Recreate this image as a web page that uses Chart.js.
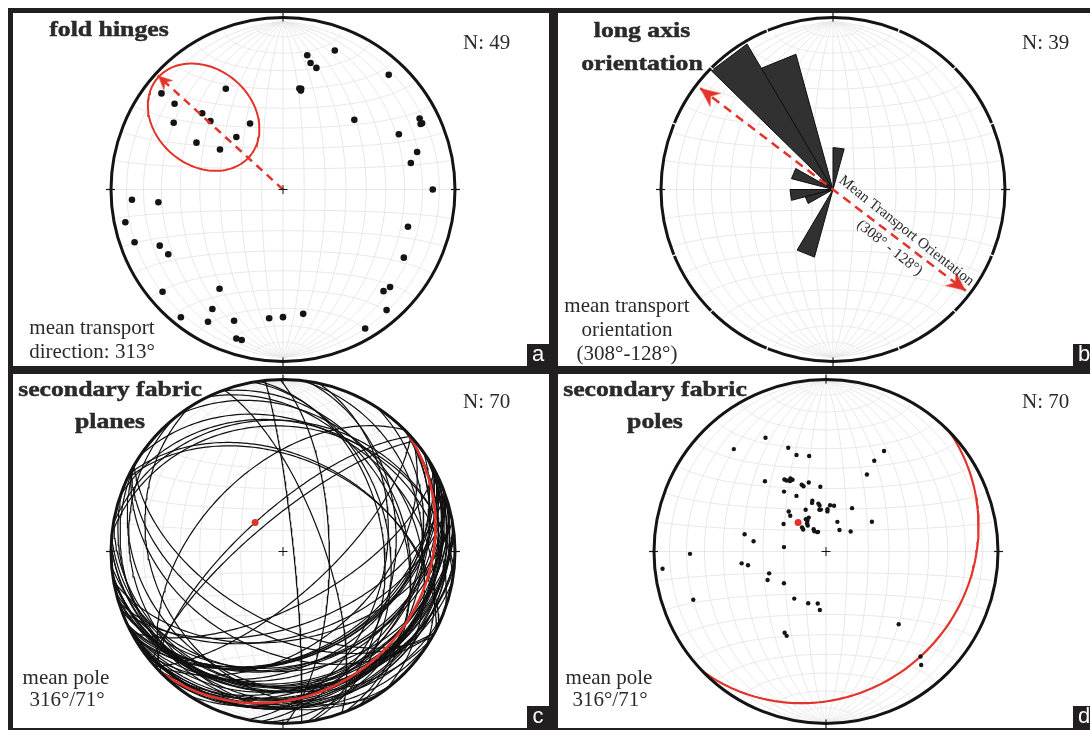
<!DOCTYPE html>
<html>
<head>
<meta charset="utf-8">
<title>Stereonets</title>
<script src="https://cdn.jsdelivr.net/npm/chart.js@4.4.1/dist/chart.umd.min.js"></script>
<style>
  html, body { margin: 0; padding: 0; background: #fff; }
  body { width: 1090px; height: 730px; overflow: hidden; position: relative; }
  .panel { position: absolute; box-sizing: border-box; border: 5px solid #231f20; background: #fff; overflow: hidden; }
  .panel canvas { position: absolute; left: 0; top: 0; }
</style>
</head>
<body>
<div class="panel" style="left:8px;top:8px;width:546px;height:363px"><canvas id="netA" width="536" height="353"></canvas></div>
<div class="panel" style="left:553px;top:8px;width:547px;height:363px"><canvas id="netB" width="537" height="353"></canvas></div>
<div class="panel" style="left:8px;top:369px;width:546px;height:364px"><canvas id="netC" width="536" height="354"></canvas></div>
<div class="panel" style="left:553px;top:369px;width:547px;height:364px"><canvas id="netD" width="537" height="354"></canvas></div>
<script>
const D = Math.PI / 180;
const RED = '#e3342b';
const INK = '#141414';
const NET_R = 172;

// ---- a: fold hinge lineations [trend, plunge] ----
const foldHinges = [
  [309,10],[331,32],[309,20],[314,35],[314,41],[302,26],[334,54],[319,56],[299,42],[303,54],
  [20,13],[10,20],[12,24],[15,26],[42,9],[9,39],[10,40],[10,39],[45,41],[62,11],[64,11],[64,12],[64,26],[74,20],[78,25],
  [266,13],[264,28],[258,7],[250,9],[245,22],[240,24],[212,31],[229,8],[210,19],[218,4],[209,11],
  [200,18],[197,8],[195,8],[186,24],[180,25],
  [90,14],[107,25],[120,20],[136,17],[133,16],[140,7],[150,5],[171,26]
];
const meanTransportDir = 313;
// cluster outline around the NW hinges: centre [trend, plunge], semi-axes in net units
const hingeCluster = { trend: 313, plunge: 37, major: 0.355, minor: 0.285 };

// ---- b: long-axis orientations, 15 degree bins ----
const roseBinStart = [0,15,30,45,60,75,90,105,120,135,150,165,180,195,210,225,240,255,270,285,300,315,330,345];
const longAxisCounts = [3,0,0,0,0,0,0,0,0,0,0,0,0,5,0,0,2,3,0,3,1,12,10,0];
const meanTransportAxis = [308, 128];

// ---- c/d: poles to secondary fabric planes [trend, plunge] ----
const fabricPoles = [
  [332,26],[318,21],[340,36],[343,41],[350,43],[319,45],[330,50],[331,51],[334,51],[335,52],[333,52],
  [340,56],[341,57],[346,56],[355,59],[325,55],[332,60],[344,66],[345,65],[351,67],[334,68],[351,70],
  [352,68],[317,64],[315,66],[328,72],[329,73],[333,72],[303,66],[325,75],[326,74],[314,75],[315,74],
  [330,79],[331,78],[338,80],[336,80],[282,50],[278,55],[276,70],
  [30,33],[28,40],[28,48],[31,66],[5,68],[10,68],[2,71],[2,70],[353,70],[21,75],[57,64],[32,78],[51,75],
  [269,22],[264,5],[262,49],[260,52],[249,61],[244,59],[250,19],[233,65],[214,63],[199,64],
  [189,65],[186,62],[207,46],[205,45],[135,40],[138,19],[140,15]
];
const meanPole = [316, 71];

// ---- lower-hemisphere equal-area (Schmidt) projection ----
function lineXY(trend, plunge) {
  const r = Math.SQRT2 * Math.sin((90 - plunge) * D / 2);
  return { x: r * Math.sin(trend * D), y: r * Math.cos(trend * D) };
}
function greatCircle(poleTrend, polePlunge, steps) {
  steps = steps || 120;
  const dipDir = poleTrend + 180, dip = 90 - polePlunge;
  const st = (dipDir - 90) * D;
  const s = [Math.sin(st), Math.cos(st), 0];
  const c = Math.cos(dip * D);
  const d = [c * Math.sin(dipDir * D), c * Math.cos(dipDir * D), Math.sin(dip * D)];
  const out = [];
  for (let i = 0; i <= steps; i++) {
    const t = Math.PI * i / steps;
    const e = s[0] * Math.cos(t) + d[0] * Math.sin(t);
    const n = s[1] * Math.cos(t) + d[1] * Math.sin(t);
    const z = Math.max(0, d[2] * Math.sin(t));
    const k = 1 / Math.sqrt(1 + z);
    out.push({ x: e * k, y: n * k });
  }
  return out;
}
function clusterOutline(c) {
  const ctr = lineXY(c.trend, c.plunge);
  const ax = [Math.sin(c.trend * D), Math.cos(c.trend * D)];
  const pr = [Math.cos(c.trend * D), -Math.sin(c.trend * D)];
  const pts = [];
  for (let i = 0; i <= 120; i++) {
    const t = 2 * Math.PI * i / 120;
    pts.push({
      x: ctr.x + c.major * Math.cos(t) * ax[0] + c.minor * Math.sin(t) * pr[0],
      y: ctr.y + c.major * Math.cos(t) * ax[1] + c.minor * Math.sin(t) * pr[1]
    });
  }
  return pts;
}
function netPoint(lam, phi) {
  const l = lam * D, p = phi * D;
  const k = Math.sqrt(1 / (1 + Math.cos(p) * Math.cos(l)));
  return [k * Math.cos(p) * Math.sin(l), k * Math.sin(p)];
}

// arrowhead sprite, tip at the sprite centre, pointing up
function arrowHead(len, halfW) {
  const c = document.createElement('canvas');
  c.width = Math.ceil(halfW * 2) + 4;
  c.height = Math.ceil(len * 2) + 4;
  const g = c.getContext('2d');
  const mx = c.width / 2, my = c.height / 2;
  g.fillStyle = RED;
  g.beginPath();
  g.moveTo(mx, my);
  g.lineTo(mx + halfW, my + len);
  g.lineTo(mx, my + len * 0.68);
  g.lineTo(mx - halfW, my + len);
  g.closePath();
  g.fill();
  return c;
}

// ---- plugins ----
const schmidtGrid = {
  id: 'schmidtGrid',
  beforeDatasetsDraw(chart) {
    const { ctx } = chart;
    const sx = chart.scales.x, sy = chart.scales.y;
    ctx.save();
    ctx.strokeStyle = '#e7e7e7';
    ctx.lineWidth = 1;
    const path = pts => {
      ctx.beginPath();
      pts.forEach(([x, y], i) => {
        const px = sx.getPixelForValue(x), py = sy.getPixelForValue(y);
        if (i) ctx.lineTo(px, py); else ctx.moveTo(px, py);
      });
      ctx.stroke();
    };
    for (let lam = -80; lam <= 80; lam += 10) {
      const pts = [];
      for (let phi = -90; phi <= 90; phi += 1) pts.push(netPoint(lam, phi));
      path(pts);
    }
    for (let phi = -80; phi <= 80; phi += 10) {
      const pts = [];
      for (let lam = -90; lam <= 90; lam += 1) pts.push(netPoint(lam, phi));
      path(pts);
    }
    ctx.restore();
  }
};

function primitivePlugin(opt) {
  return {
    id: 'primitive',
    afterDatasetsDraw(chart) {
      const { ctx } = chart;
      const sx = chart.scales.x, sy = chart.scales.y;
      const cx = sx.getPixelForValue(0), cy = sy.getPixelForValue(0);
      const r = sx.getPixelForValue(1) - cx;
      ctx.save();
      ctx.strokeStyle = INK;
      ctx.lineWidth = 3;
      ctx.beginPath();
      ctx.arc(cx, cy, r, 0, 2 * Math.PI);
      ctx.stroke();
      ctx.lineWidth = 1.2;
      for (let a = 0; a < 360; a += 90) {
        const dx = Math.sin(a * D), dy = -Math.cos(a * D);
        ctx.beginPath();
        ctx.moveTo(cx + dx * (r - 4), cy + dy * (r - 4));
        ctx.lineTo(cx + dx * (r + 5), cy + dy * (r + 5));
        ctx.stroke();
      }
      if (opt.notches) {
        ctx.strokeStyle = '#fff';
        ctx.lineWidth = 1.3;
        for (let a = 22.5; a < 360; a += 22.5) {
          if (a % 90 === 0) continue;
          const dx = Math.sin(a * D), dy = -Math.cos(a * D);
          ctx.beginPath();
          ctx.moveTo(cx + dx * (r - 2.5), cy + dy * (r - 2.5));
          ctx.lineTo(cx + dx * (r + 2.5), cy + dy * (r + 2.5));
          ctx.stroke();
        }
      }
      if (opt.cross) {
        ctx.strokeStyle = INK;
        ctx.lineWidth = 1;
        ctx.beginPath();
        ctx.moveTo(cx - 4.5, cy); ctx.lineTo(cx + 4.5, cy);
        ctx.moveTo(cx, cy - 4.5); ctx.lineTo(cx, cy + 4.5);
        ctx.stroke();
      }
      ctx.restore();
    }
  };
}

function textPlugin(items, tag) {
  return {
    id: 'panelText',
    afterDraw(chart) {
      const { ctx } = chart;
      items.forEach(t => {
        ctx.save();
        ctx.font = t.font;
        ctx.fillStyle = t.color || '#2a2a2a';
        ctx.textAlign = t.align || 'center';
        ctx.textBaseline = 'alphabetic';
        ctx.translate(t.x, t.y);
        if (t.angle) ctx.rotate(t.angle * D);
        if (t.sx) ctx.scale(t.sx, 1);
        ctx.fillText(t.text, 0, 0);
        if (t.heavy) {
          ctx.strokeStyle = ctx.fillStyle;
          ctx.lineWidth = 0.5;
          ctx.strokeText(t.text, 0, 0);
        }
        ctx.restore();
      });
      if (tag) {
        ctx.save();
        ctx.fillStyle = '#231f20';
        ctx.fillRect(tag.x, tag.y, tag.w, tag.h);
        ctx.fillStyle = '#fff';
        ctx.font = '22px "Liberation Sans", Arial, sans-serif';
        ctx.textAlign = 'center';
        ctx.textBaseline = 'alphabetic';
        ctx.fillText(tag.text, tag.x + tag.w / 2, tag.y + tag.h - 5);
        ctx.restore();
      }
    }
  };
}

const TITLE = 'bold 22px "Liberation Serif", "Times New Roman", serif';
const BODY = '21px "Liberation Serif", "Times New Roman", serif';
const SMALL = '15px "Liberation Serif", "Times New Roman", serif';
const TSX = 1.17;

function netChart(id, cx, cy, datasets, plugins) {
  const cv = document.getElementById(id);
  const W = cv.width, H = cv.height;
  return new Chart(cv, {
    type: 'line',
    data: { datasets },
    options: {
      responsive: false,
      animation: false,
      devicePixelRatio: 1,
      events: [],
      layout: { padding: { left: cx - NET_R, right: W - cx - NET_R, top: cy - NET_R, bottom: H - cy - NET_R } },
      scales: {
        x: { type: 'linear', min: -1, max: 1, display: false },
        y: { type: 'linear', min: -1, max: 1, display: false }
      },
      elements: { line: { tension: 0 } },
      plugins: { legend: { display: false }, tooltip: { enabled: false }, title: { display: false } }
    },
    plugins: [schmidtGrid].concat(plugins)
  });
}

function pointSet(data, color, radius) {
  return { data, showLine: false, pointRadius: radius, pointBackgroundColor: color, pointBorderWidth: 0, clip: 10 };
}
function lineSet(data, color, width, extra) {
  return Object.assign({ data, showLine: true, borderColor: color, borderWidth: width, pointRadius: 0, fill: false, clip: 10 }, extra || {});
}

// ---- panel a ----
const smallHead = arrowHead(15, 7);
const transportTip = lineXY(meanTransportDir, 0);
netChart('netA', 270, 177.5, [
  lineSet([{ x: 0, y: 0 }, { x: transportTip.x * 0.995, y: transportTip.y * 0.995 }], RED, 2.5, {
    borderDash: [8, 6],
    pointStyle: smallHead,
    pointRadius: c => (c.dataIndex === 1 ? 6 : 0),
    pointRotation: meanTransportDir
  }),
  pointSet(foldHinges.map(([t, p]) => lineXY(t, p)), INK, 3.3),
  lineSet(clusterOutline(hingeCluster), RED, 2)
], [
  primitivePlugin({ cross: true }),
  textPlugin([
    { text: 'fold hinges', x: 96, y: 23, font: TITLE, sx: TSX, heavy: true },
    { text: 'N: ' + foldHinges.length, x: 450, y: 36, font: BODY, align: 'left' },
    { text: 'mean transport', x: 79, y: 321, font: BODY },
    { text: 'direction: ' + meanTransportDir + '\u00b0', x: 79, y: 345, font: BODY }
  ], { text: 'a', x: 514, y: 331, w: 22, h: 22 })
]);

// ---- panel b ----
const bigHead = arrowHead(20, 9);
const roseMax = Math.max.apply(null, longAxisCounts);
const roseTotal = longAxisCounts.reduce((s, n) => s + n, 0);
const petals = [];
longAxisCounts.forEach((n, i) => {
  if (!n) return;
  const len = n / roseMax;
  const a0 = roseBinStart[i], a1 = a0 + 15;
  petals.push(lineSet([
    { x: 0, y: 0 },
    { x: len * Math.sin(a0 * D), y: len * Math.cos(a0 * D) },
    { x: len * Math.sin(a1 * D), y: len * Math.cos(a1 * D) },
    { x: 0, y: 0 }
  ], '#0e0e0e', 1, { fill: 'shape', backgroundColor: '#313131' }));
});
const axisEnds = meanTransportAxis.map(a => {
  const p = lineXY(a, 0);
  return { x: p.x * 0.98, y: p.y * 0.98 };
});
netChart('netB', 275, 178, [
  lineSet(axisEnds, RED, 2.5, {
    borderDash: [9, 6],
    pointStyle: bigHead,
    pointRadius: 6,
    pointRotation: c => meanTransportAxis[c.dataIndex]
  })
].concat(petals), [
  primitivePlugin({ notches: true }),
  textPlugin([
    { text: 'long axis', x: 84, y: 24, font: TITLE, sx: TSX, heavy: true },
    { text: 'orientation', x: 84, y: 57, font: TITLE, sx: TSX, heavy: true },
    { text: 'N: ' + roseTotal, x: 464, y: 36, font: BODY, align: 'left' },
    { text: 'mean transport', x: 69, y: 299, font: BODY },
    { text: 'orientation', x: 69, y: 323, font: BODY },
    { text: '(' + meanTransportAxis[0] + '\u00b0-' + meanTransportAxis[1] + '\u00b0)', x: 69, y: 347, font: BODY },
    { text: 'Mean Transport Orientation', x: 346, y: 221, font: SMALL, angle: 38.5 },
    { text: '(' + meanTransportAxis[0] + '\u00b0 - ' + meanTransportAxis[1] + '\u00b0)', x: 329, y: 238, font: SMALL, angle: 38.5 }
  ], { text: 'b', x: 515, y: 331, w: 22, h: 22 })
]);

// ---- panel c ----
const meanXY = lineXY(meanPole[0], meanPole[1]);
netChart('netC', 270, 177.5, [
  pointSet([meanXY], RED, 3.5),
  lineSet(greatCircle(meanPole[0], meanPole[1]), RED, 2.6),
  ...fabricPoles.map(([t, p]) => lineSet(greatCircle(t, p), '#101010', 1.2))
], [
  primitivePlugin({ cross: true }),
  textPlugin([
    { text: 'secondary fabric', x: 97, y: 22, font: TITLE, sx: TSX, heavy: true },
    { text: 'planes', x: 97, y: 54, font: TITLE, sx: TSX, heavy: true },
    { text: 'N: ' + fabricPoles.length, x: 450, y: 34, font: BODY, align: 'left' },
    { text: 'mean pole', x: 53, y: 310, font: BODY },
    { text: meanPole[0] + '\u00b0/' + meanPole[1] + '\u00b0', x: 54, y: 332, font: BODY }
  ], { text: 'c', x: 514, y: 332, w: 22, h: 22 })
]);

// ---- panel d ----
netChart('netD', 268, 177.5, [
  pointSet([meanXY], RED, 3.5),
  pointSet(fabricPoles.map(([t, p]) => lineXY(t, p)), INK, 2.2),
  lineSet(greatCircle(meanPole[0], meanPole[1]), RED, 2.2)
], [
  primitivePlugin({ cross: true }),
  textPlugin([
    { text: 'secondary fabric', x: 97, y: 22, font: TITLE, sx: TSX, heavy: true },
    { text: 'poles', x: 97, y: 54, font: TITLE, sx: TSX, heavy: true },
    { text: 'N: ' + fabricPoles.length, x: 464, y: 34, font: BODY, align: 'left' },
    { text: 'mean pole', x: 51, y: 310, font: BODY },
    { text: meanPole[0] + '\u00b0/' + meanPole[1] + '\u00b0', x: 52, y: 332, font: BODY }
  ], { text: 'd', x: 515, y: 332, w: 22, h: 22 })
]);
</script>
</body>
</html>
